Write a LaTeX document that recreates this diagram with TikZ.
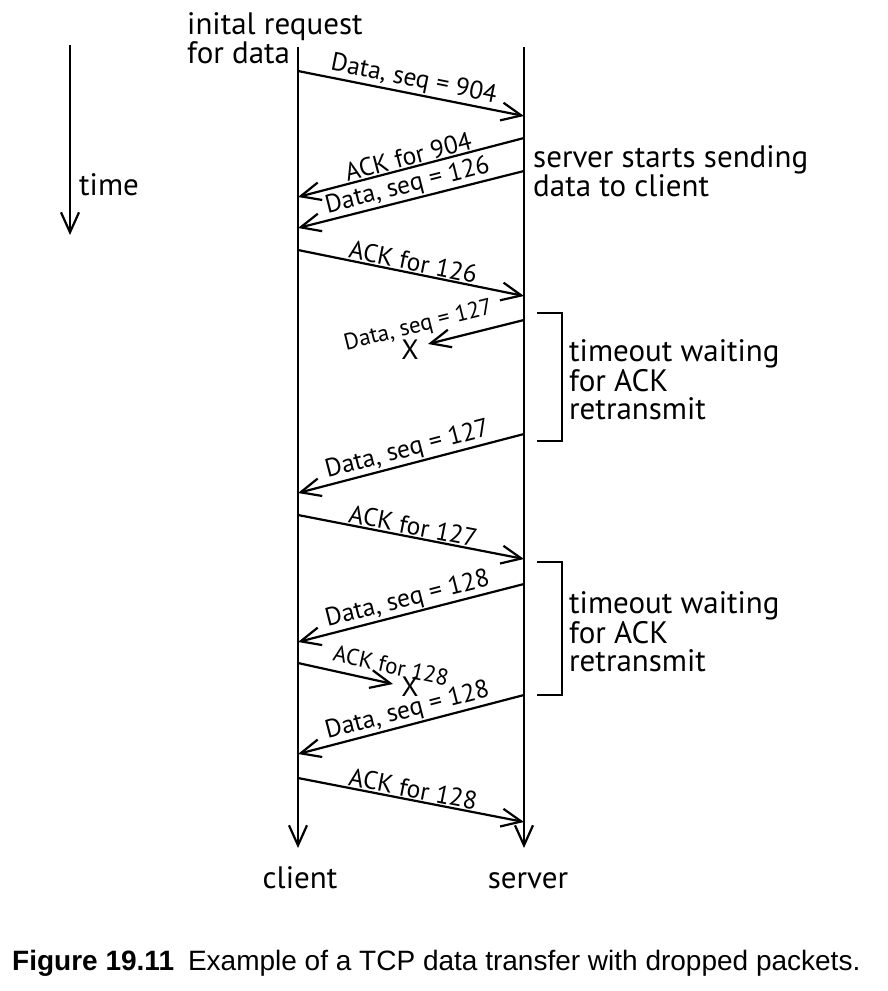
\documentclass[tikz,border=0pt]{standalone}
\usepackage{fontspec}
\setmainfont{PT Sans}
\newfontfamily\capfont{Liberation Sans}
\usetikzlibrary{arrows.meta}
\usetikzlibrary{positioning}

\tikzset{
  wire/.style={line width=2.2pt, line cap=butt},
  tip/.style={-{Straight Barb[length=20pt, width=18pt, line width=2.2pt]}},
  txt/.style={font=\fontsize{31}{28}\selectfont, inner sep=1pt},
  msglbl/.style={font=\fontsize{25.5}{28}\selectfont, sloped, above, inner sep=1pt},
  lostlbl/.style={font=\fontsize{23}{26}\selectfont, sloped, above=8pt, inner sep=0pt},
  dropx/.style={font=\fontsize{28}{30}\selectfont, inner sep=0pt},
}

\begin{document}
\begin{tikzpicture}[x=1pt, y=-1pt]
    \useasboundingbox (0,0) rectangle (888,991);

    % Time axis
    \coordinate (ttop) at (70,45);
    \coordinate (tbot) at (70,235);
    \draw[wire, tip] (ttop) -- (tbot);
    \node[txt, anchor=west] (time) at (78,185) {time};

    % Lifelines
    \coordinate (ctop) at (298,47);
    \coordinate (cbot) at (298,848);
    \coordinate (stop) at (524,47);
    \coordinate (sbot) at (524,848);
    \draw[wire, tip] (ctop) -- (cbot);
    \draw[wire, tip] (stop) -- (sbot);
    \node[txt, anchor=base] (client) at (300,888) {client};
    \node[txt, anchor=base] (server) at (528,888) {server};

    % Notes
    \node[txt, anchor=west, align=left] (request) at (186,38) {inital request\\for data};
    \node[txt, anchor=west, align=left] (sending) at (532,171) {server starts sending\\data to client};

    % Message end points
    \foreach \n/\y in {1/71, 2/197, 3/228, 4/250, 6/493, 7/515, 8/642, 9/663, 10/754, 11/778}
        \coordinate (c\n) at (298,\y);
    \foreach \n/\y in {1/116, 2/138, 3/171, 4/296, 5/320, 6/434, 7/559, 8/584, 10/695, 11/822}
        \coordinate (s\n) at (524,\y);
    \coordinate (x5) at (428,344);
    \coordinate (x9) at (393,684);

    % Messages
    \draw[wire, tip] (c1) -- node[msglbl] {Data, seq = 904} (s1);
    \draw[wire, tip] (s2) -- node[msglbl] {ACK for 904} (c2);
    \draw[wire, tip] (s3) -- node[msglbl] {Data, seq = 126} (c3);
    \draw[wire, tip] (c4) -- node[msglbl] {ACK for 126} (s4);
    \draw[wire, tip] (s5) -- node[lostlbl, pos=1.05] {Data, seq = 127} (x5);
    \draw[wire, tip] (s6) -- node[msglbl] {Data, seq = 127} (c6);
    \draw[wire, tip] (c7) -- node[msglbl] {ACK for 127} (s7);
    \draw[wire, tip] (s8) -- node[msglbl] {Data, seq = 128} (c8);
    \draw[wire, tip] (c9) -- node[lostlbl, pos=0.94] {ACK for 128} (x9);
    \draw[wire, tip] (s10) -- node[msglbl] {Data, seq = 128} (c10);
    \draw[wire, tip] (c11) -- node[msglbl] {ACK for 128} (s11);

    % Dropped packets
    \node[dropx] (drop1) at (410,350) {X};
    \node[dropx] (drop2) at (410,687) {X};

    % Timeout brackets
    \draw[wire] (537,313) -- (562,313) -- (562,441) -- (537,441);
    \draw[wire] (537,562) -- (562,562) -- (562,695) -- (537,695);
    \node[txt, anchor=west, align=left] (wait1) at (568,380) {timeout waiting\\for ACK\\retransmit};
    \node[txt, anchor=west, align=left] (wait2) at (568,632) {timeout waiting\\for ACK\\retransmit};

    % Caption
    \node[anchor=west, inner sep=0pt, font=\capfont\fontsize{28}{32}\selectfont] (caption) at (12,963)
        {\textbf{Figure 19.11}\hspace{14pt}Example of a TCP data transfer with dropped packets.};
\end{tikzpicture}
\end{document}
